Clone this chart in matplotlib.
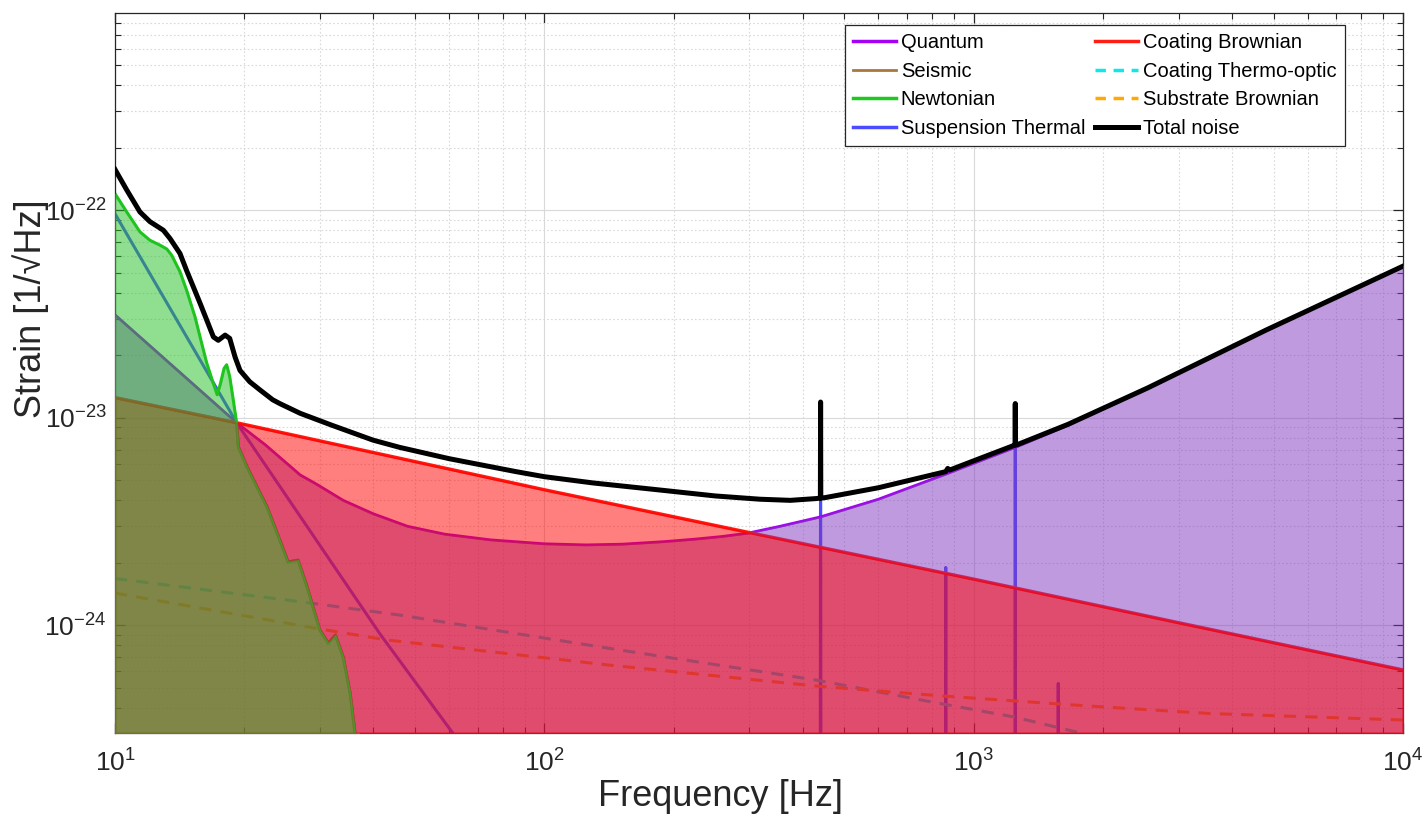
import numpy as np
import matplotlib
matplotlib.use('Agg')
import matplotlib.pyplot as plt
from matplotlib.ticker import LogLocator, FuncFormatter, NullFormatter, FixedLocator
from matplotlib.lines import Line2D

plt.rcParams['font.family'] = ['Liberation Sans', 'DejaVu Sans']
plt.rcParams['mathtext.fontset'] = 'custom'
plt.rcParams['mathtext.rm'] = 'Liberation Sans'
plt.rcParams['mathtext.it'] = 'Liberation Sans'

# ---------------- data ----------------
f_quantum = [10, 19.2, 22.4, 27, 29.4, 34, 39.9, 48, 58.5, 75, 100, 125, 152, 190, 224,
             260, 298, 354, 440, 600, 861, 1250, 1660, 2540, 4810, 10000]
s_quantum = [3.13e-23, 9.46e-24, 7.4e-24, 5.3e-24, 4.8e-24, 4.0e-24, 3.45e-24, 3.0e-24,
             2.75e-24, 2.58e-24, 2.47e-24, 2.44e-24, 2.46e-24, 2.53e-24, 2.6e-24, 2.68e-24,
             2.78e-24, 3.0e-24, 3.33e-24, 4.05e-24, 5.35e-24, 7.2e-24, 9.2e-24, 1.39e-23,
             2.65e-23, 5.37e-23]

f_coating = [10, 19.2, 100, 300, 1000, 3000, 10000]
s_coating = [1.25e-23, 9.46e-24, 4.5e-24, 2.8e-24, 1.67e-24, 1.03e-24, 6.1e-25]

f_newton = [10, 10.65, 11.43, 12.06, 12.73, 13.2, 13.55, 14.17, 14.69, 15.36, 15.78, 16.36,
            16.95, 17.3, 17.6, 17.95, 18.2, 18.5, 18.8, 19.2, 19.38, 20.3, 22.6, 24.2, 25.3,
            26.7, 28.0, 30.0, 31.4, 32.6, 34.0, 35.3, 36.2, 37.0]
s_newton = [1.2e-22, 9.8e-23, 7.86e-23, 7.16e-23, 6.78e-23, 6.5e-23, 6.07e-23, 5.05e-23,
            4.1e-23, 3.06e-23, 2.45e-23, 1.83e-23, 1.46e-23, 1.29e-23, 1.46e-23, 1.73e-23,
            1.8e-23, 1.58e-23, 1.27e-23, 9.46e-24, 7.25e-24, 5.8e-24, 3.72e-24, 2.58e-24,
            2.02e-24, 2.06e-24, 1.54e-24, 9.5e-25, 8.2e-25, 8.97e-25, 7.05e-25, 4.7e-25,
            3.07e-25, 2.0e-25]

f_seismic = [10, 19.2, 19.38, 20.3, 22.6, 24.2, 25.3, 26.7, 28.0, 30.0, 31.4, 32.6, 34.0,
             35.3, 36.2, 37.0]
s_seismic = [1.25e-23, 9.46e-24, 7.25e-24, 5.8e-24, 3.72e-24, 2.58e-24, 2.02e-24, 2.06e-24,
             1.54e-24, 9.5e-25, 8.2e-25, 8.97e-25, 7.05e-25, 4.7e-25, 3.07e-25, 2.0e-25]

f_susp = [10, 19.2, 41.4, 61.4, 100, 439, 440, 441, 860, 861, 862, 1249, 1250, 1251,
          1573, 1574, 1575, 10000]
s_susp = [9.6e-23, 9.46e-24, 9.1e-25, 3.0e-25, 5e-26, 5e-26, 1.18e-23, 5e-26, 5e-26, 1.9e-24,
          5e-26, 5e-26, 1.16e-23, 5e-26, 5e-26, 5.25e-25, 5e-26, 5e-26]

f_cto = [10, 27, 46.1, 142, 430, 796, 1242, 1775, 2500]
s_cto = [1.68e-24, 1.3e-24, 1.12e-24, 7.74e-25, 5.45e-25, 4.28e-25, 3.62e-25, 3.03e-25, 2.4e-25]

f_subst = [10, 29.5, 43, 142, 430, 857, 1880, 3556, 10000]
s_subst = [1.43e-24, 9.66e-25, 8.5e-25, 6.43e-25, 5.1e-25, 4.56e-25, 4.08e-25, 3.76e-25, 3.5e-25]

f_total = [10, 10.65, 11.43, 12.06, 12.96, 13.43, 14.17, 14.69, 15.22, 15.78, 16.36, 16.95,
           17.4, 18.05, 18.5, 19.04, 19.55, 20.6, 21.77, 23.3, 24.2, 27, 32, 39.9, 46, 60,
           85.9, 100, 130, 185, 250, 318, 374, 430, 439.5, 440, 440.5, 450, 600, 861, 870,
           880, 1000, 1240, 1249.5, 1250, 1250.5, 1260, 1660, 2540, 4810, 10000]
s_total = [1.57e-22, 1.25e-22, 9.8e-23, 8.8e-23, 8.0e-23, 7.3e-23, 6.18e-23, 5.1e-23,
           4.27e-23, 3.56e-23, 2.95e-23, 2.45e-23, 2.36e-23, 2.5e-23, 2.41e-23, 1.96e-23,
           1.69e-23, 1.49e-23, 1.36e-23, 1.22e-23, 1.17e-23, 1.05e-23, 9.2e-24, 7.8e-24,
           7.2e-24, 6.35e-24, 5.5e-24, 5.2e-24, 4.85e-24, 4.49e-24, 4.2e-24, 4.05e-24, 4.0e-24,
           4.08e-24, 4.1e-24, 1.19e-23, 4.1e-24, 4.12e-24, 4.6e-24, 5.5e-24, 5.7e-24, 5.6e-24,
           6.2e-24, 7.35e-24, 7.4e-24, 1.17e-23, 7.4e-24, 7.4e-24, 9.3e-24, 1.39e-23, 2.65e-23,
           5.37e-23]

x_ticks = [10, 100, 1000, 10000]
y_ticks = [1e-24, 1e-23, 1e-22]
x_limits = (10, 10000)
y_limits = (3.03e-25, 8.9e-22)

# ---------------- styles ----------------
c_quantum = '#a600f2'
c_quantum_fill = '#8236be'
c_seismic = '#a8783c'
c_newton = '#1ec81e'
c_newton_fill = '#22c022'
c_susp = '#4b4bff'
c_coating = '#ff1e14'
c_coating_fill = '#ff0000'
c_cto = '#10e8e8'
c_subst = '#ffaa00'

W, H = 1424, 814
fig = plt.figure(figsize=(W / 100, H / 100), dpi=100)
ax = fig.add_axes([115 / W, 1 - 733 / H, (1403 - 115) / W, (733 - 13) / H])
ax.set_xscale('log')
ax.set_yscale('log')
ax.set_xlim(*x_limits)
ax.set_ylim(*y_limits)
bottom = y_limits[0]

# lines underneath the transparent fills
ax.plot(f_seismic, s_seismic, color=c_seismic, lw=2.0, zorder=2)
ax.plot(f_susp, s_susp, color=c_susp, lw=2.2, zorder=2)
ax.plot(f_cto, s_cto, color=c_cto, lw=2.2, ls=(0, (4, 3)), zorder=2)
ax.plot(f_subst, s_subst, color=c_subst, lw=2.2, ls=(0, (4, 3)), zorder=2)
ax.plot(f_quantum, s_quantum, color=c_quantum, lw=2.0, zorder=2)
ax.plot(f_coating, s_coating, color=c_coating, lw=2.4, zorder=2)
ax.plot(f_newton, s_newton, color=c_newton, lw=2.2, zorder=2)

# transparent fills (edges drawn faintly, as patch outlines)
ax.fill_between(f_quantum, s_quantum, bottom, facecolor=c_quantum_fill, alpha=0.5,
                edgecolor=c_quantum_fill, lw=1.0, zorder=3)
ax.fill_between(f_coating, s_coating, bottom, facecolor=c_coating_fill, alpha=0.5,
                edgecolor=c_coating_fill, lw=1.5, zorder=3)
ax.fill_between(f_newton, s_newton, bottom, facecolor=c_newton_fill, alpha=0.5,
                edgecolor=c_newton_fill, lw=1.0, zorder=3)

# total
ax.plot(f_total, s_total, color='black', lw=3.6, zorder=5)

# axes styling
axis_col = '#262626'
for sp in ax.spines.values():
    sp.set_color(axis_col)
    sp.set_linewidth(0.9)
ax.set_axisbelow(True)
ax.grid(True, which='major', color='#d9d9d9', lw=0.8, ls='-')
ax.grid(True, which='minor', color='#d9d9d9', lw=0.8, ls=(0, (1.5, 2)))
ax.xaxis.set_major_locator(FixedLocator(x_ticks))
ax.yaxis.set_major_locator(FixedLocator(y_ticks))
ax.xaxis.set_minor_locator(LogLocator(base=10, subs=np.arange(2, 10), numticks=20))
ax.yaxis.set_minor_locator(LogLocator(base=10, subs=np.arange(2, 10), numticks=20))
fmt = FuncFormatter(lambda v, p: r'$\mathregular{10^{%d}}$' % int(round(np.log10(v))))
ax.xaxis.set_major_formatter(fmt)
ax.yaxis.set_major_formatter(fmt)
ax.xaxis.set_minor_formatter(NullFormatter())
ax.yaxis.set_minor_formatter(NullFormatter())
ax.tick_params(which='both', direction='in', top=True, right=True, colors=axis_col,
               labelsize=19)
ax.tick_params(which='major', length=7, width=0.9)
ax.tick_params(which='minor', length=4, width=0.8)
ax.tick_params(axis='x', pad=12)
ax.tick_params(axis='y', pad=6)
ax.set_xlabel('Frequency [Hz]', fontsize=26, color=axis_col)
ax.set_ylabel('Strain [1/\u221aHz]', fontsize=26, color=axis_col)
ax.xaxis.set_label_coords((720 - 115) / (1403 - 115), -(796 - 733) / (733 - 13))
ax.yaxis.set_label_coords(-(115 - 31) / (1403 - 115), (733 - 309) / (733 - 13))
ax.xaxis.label.set_va('center')
ax.yaxis.label.set_va('center')

handles = [
    Line2D([], [], color=c_quantum, lw=2.5),
    Line2D([], [], color=c_seismic, lw=2.0),
    Line2D([], [], color=c_newton, lw=2.5),
    Line2D([], [], color=c_susp, lw=2.5),
    Line2D([], [], color=c_coating, lw=2.5),
    Line2D([], [], color=c_cto, lw=2.5, ls=(0, (3, 2.2))),
    Line2D([], [], color=c_subst, lw=2.5, ls=(0, (3, 2.2))),
    Line2D([], [], color='black', lw=3.6),
]
labels = ['Quantum', 'Seismic', 'Newtonian', 'Suspension Thermal', 'Coating Brownian',
          'Coating Thermo-optic', 'Substrate Brownian', 'Total noise']
leg = ax.legend(handles, labels, ncol=2, loc='upper left',
                bbox_to_anchor=(845 / W, 1 - 25 / H), bbox_transform=fig.transFigure,
                fontsize=14.5, frameon=True, fancybox=False, framealpha=1,
                edgecolor='#262626', borderaxespad=0, borderpad=0.42, labelspacing=0.47,
                handlelength=2.1, handletextpad=0.25, columnspacing=0.5)
leg.get_frame().set_linewidth(0.9)
leg.set_zorder(10)

fig.savefig('out.png', dpi=100)
